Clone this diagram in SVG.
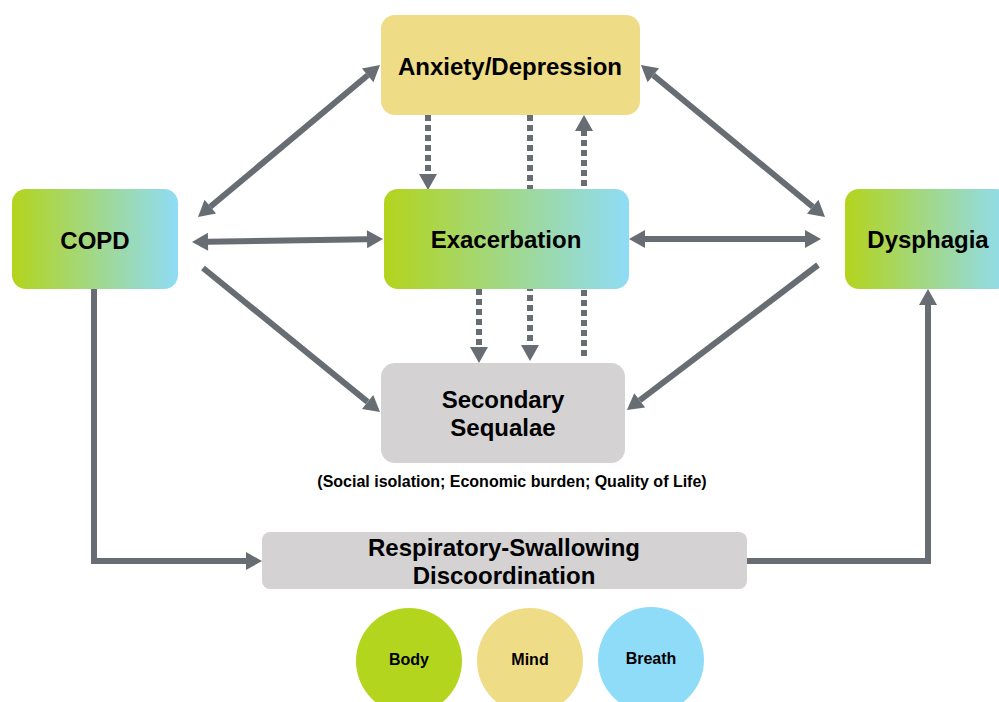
<svg xmlns="http://www.w3.org/2000/svg" width="999" height="702" viewBox="0 0 999 702">
<style>
  text { font-family: "Liberation Sans", Arial, sans-serif; font-weight: bold; fill: #000; text-anchor: middle; }
  .lbl { font-size: 24px; }
  .sub { font-size: 16px; }
  .cir { font-size: 16px; }
  .conn { fill: none; stroke: #676d72; stroke-width: 6; }
  .dash { stroke-dasharray: 6 4; }
  .grad { fill: url(#g); }
  .gray { fill: #d4d2d3; }
</style>
<defs>
  <linearGradient id="g" x1="0" y1="0" x2="1" y2="0">
    <stop offset="0" stop-color="#b3d41c"/>
    <stop offset="1" stop-color="#8fdcf6"/>
  </linearGradient>
  <marker id="ah" markerUnits="userSpaceOnUse" markerWidth="18" markerHeight="20" refX="0" refY="9" orient="auto-start-reverse" overflow="visible">
    <path d="M0,0 L16,9 L0,18 z" fill="#676d72"/>
  </marker>
</defs>

<g id="connectors">
  <line class="conn" x1="210.3" y1="206.7" x2="367.7" y2="75.3" marker-start="url(#ah)" marker-end="url(#ah)"/>
  <line class="conn" x1="653.3" y1="75.2" x2="812.7" y2="206.8" marker-start="url(#ah)" marker-end="url(#ah)"/>
  <line class="conn" x1="208" y1="241.7" x2="367" y2="239.3" marker-start="url(#ah)" marker-end="url(#ah)"/>
  <line class="conn" x1="645" y1="239" x2="805" y2="239" marker-start="url(#ah)" marker-end="url(#ah)"/>
  <line class="conn" x1="203" y1="268" x2="367.6" y2="401.9" marker-end="url(#ah)"/>
  <line class="conn" x1="818" y1="265" x2="639.7" y2="400.3" marker-end="url(#ah)"/>
  <path class="conn" d="M94,289 V561 H246" marker-end="url(#ah)"/>
  <path class="conn" d="M747,561 H928 V305" marker-end="url(#ah)"/>
  <line class="conn dash" x1="428" y1="115" x2="428" y2="174" marker-end="url(#ah)"/>
  <line class="conn dash" x1="530" y1="115" x2="530" y2="345" marker-end="url(#ah)"/>
  <line class="conn dash" x1="584" y1="356" x2="584" y2="131" marker-end="url(#ah)"/>
  <line class="conn dash" x1="479" y1="289" x2="479" y2="347" marker-end="url(#ah)"/>
</g>

<g id="anxiety">
  <rect x="381" y="15" width="259" height="100" rx="14" fill="#eedc87"/>
  <text class="lbl" x="510" y="75">Anxiety/Depression</text>
</g>
<g id="copd">
  <rect class="grad" x="12" y="189" width="166" height="100" rx="14"/>
  <text class="lbl" x="95" y="249">COPD</text>
</g>
<g id="exacerbation">
  <rect class="grad" x="384" y="189" width="245" height="100" rx="14"/>
  <text class="lbl" x="506" y="248">Exacerbation</text>
</g>
<g id="dysphagia">
  <rect class="grad" x="845" y="189" width="166" height="100" rx="14"/>
  <text class="lbl" x="928" y="248">Dysphagia</text>
</g>
<g id="secondary">
  <rect class="gray" x="381" y="363" width="244" height="100" rx="14"/>
  <text class="lbl" x="503" y="408">Secondary</text>
  <text class="lbl" x="503" y="436">Sequalae</text>
  <text class="sub" x="512" y="487">(Social isolation; Economic burden; Quality of Life)</text>
</g>
<g id="discoordination">
  <rect class="gray" x="262" y="532" width="485" height="57" rx="8"/>
  <text class="lbl" x="504" y="556">Respiratory-Swallowing</text>
  <text class="lbl" x="504" y="584">Discoordination</text>
</g>
<g id="body">
  <circle cx="409" cy="661" r="53" fill="#b3d51d"/>
  <text class="cir" x="409" y="665">Body</text>
</g>
<g id="mind">
  <circle cx="530" cy="661" r="53" fill="#eedc87"/>
  <text class="cir" x="530" y="665">Mind</text>
</g>
<g id="breath">
  <circle cx="651" cy="660" r="53" fill="#8fdcf9"/>
  <text class="cir" x="651" y="664">Breath</text>
</g>
</svg>
